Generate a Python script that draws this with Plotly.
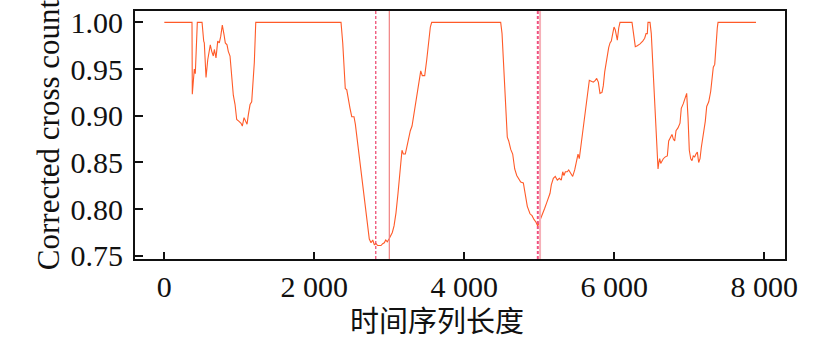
import plotly.graph_objects as go

# Series: time-series length vs corrected cross count
x_vals = [0, 369, 373, 400, 413, 440, 503, 512, 525, 533, 556, 579, 596, 613, 632, 653, 667, 689,
          712, 733, 752, 773, 796, 813, 836, 853, 876, 899, 920, 943, 965, 996, 1023, 1040, 1063,
          1085, 1103, 1120, 1143, 1165, 1183, 1200, 1219,
          2356, 2379, 2396, 2413, 2432, 2449, 2476, 2499, 2529, 2547, 2573, 2600, 2627, 2653, 2680,
          2707, 2733, 2756, 2779, 2800, 2823, 2845, 2867, 2889, 2912, 2933, 2952, 2973, 2996, 3019,
          3040, 3063, 3089, 3116, 3143, 3169, 3187, 3213, 3232, 3259, 3280, 3303, 3325, 3352, 3379,
          3405, 3419, 3440, 3472, 3499, 3525, 3547, 3565,
          4485, 4503, 4520, 4539, 4556, 4573, 4592, 4619, 4645, 4672, 4699, 4725, 4752, 4787, 4813,
          4840, 4876, 4903, 4929, 4956, 4979, 5000, 5019, 5045, 5072, 5099, 5125, 5143, 5160, 5187,
          5213, 5240, 5267, 5293, 5312, 5329, 5347, 5373, 5392, 5419, 5445, 5472, 5499, 5516, 5533,
          5552, 5579, 5605, 5632, 5649, 5667, 5693, 5720, 5747, 5765, 5787,
          5809, 5836, 5853, 5872, 5889, 5907, 5925, 5943, 5960, 5979, 5996, 6013, 6040, 6059, 6076,
          6236, 6253, 6280, 6307, 6343, 6379, 6405, 6423, 6440, 6449, 6476, 6493, 6512, 6529, 6547,
          6565, 6583, 6592, 6605, 6619, 6636, 6653, 6680, 6707, 6725, 6752, 6769, 6787, 6805, 6823,
          6849, 6876, 6893, 6920, 6947, 6965, 6983, 7000, 7019, 7036, 7053, 7072, 7089, 7107, 7125,
          7143, 7160, 7187, 7213, 7232, 7259, 7285, 7303, 7320, 7339, 7356, 7373, 7383, 7889]
y_vals = [1.0, 1.0, 0.923, 0.950, 0.945, 1.0, 1.0, 0.987, 0.980, 0.978, 0.941, 0.960, 0.968, 0.976,
          0.969, 0.964, 0.971, 0.962, 0.980, 0.978, 0.985, 0.997, 0.987, 0.978, 0.976, 0.969, 0.964,
          0.943, 0.922, 0.912, 0.896, 0.894, 0.892, 0.889, 0.898, 0.894, 0.891, 0.901, 0.912, 0.915,
          0.932, 0.957, 1.0,
          1.0, 0.978, 0.950, 0.929, 0.928, 0.919, 0.908, 0.899, 0.899, 0.891, 0.873, 0.856, 0.838,
          0.817, 0.800, 0.782, 0.768, 0.764, 0.767, 0.762, 0.763, 0.761, 0.761, 0.761, 0.763, 0.764,
          0.767, 0.765, 0.768, 0.772, 0.775, 0.782, 0.796, 0.817, 0.838, 0.863, 0.859, 0.859, 0.866,
          0.877, 0.884, 0.889, 0.901, 0.915, 0.929, 0.943, 0.948, 0.943, 0.943, 0.960, 0.980, 0.995,
          1.0,
          1.0, 0.988, 0.960, 0.926, 0.898, 0.877, 0.873, 0.864, 0.859, 0.843, 0.836, 0.833, 0.829,
          0.828, 0.814, 0.803, 0.795, 0.793, 0.789, 0.786, 0.782, 0.786, 0.791, 0.795, 0.801, 0.807,
          0.812, 0.817, 0.826, 0.833, 0.835, 0.831, 0.833, 0.831, 0.840, 0.836, 0.840, 0.840, 0.842,
          0.838, 0.835, 0.842, 0.854, 0.859, 0.854, 0.866, 0.880, 0.898, 0.912, 0.926, 0.938, 0.937,
          0.936, 0.938, 0.940, 0.936,
          0.924, 0.925, 0.932, 0.947, 0.957, 0.967, 0.973, 0.978, 0.980, 0.988, 0.995, 0.992, 0.981,
          0.994, 1.0,
          1.0, 0.988, 0.974, 0.975, 0.977, 0.980, 0.983, 0.988, 0.988, 1.0, 1.0, 0.988, 0.960, 0.926,
          0.898, 0.870, 0.843, 0.849, 0.854, 0.849, 0.852, 0.854, 0.856, 0.857, 0.873, 0.878, 0.880,
          0.875, 0.873, 0.884, 0.887, 0.892, 0.908, 0.913, 0.920, 0.924, 0.898, 0.863, 0.854, 0.852,
          0.857, 0.856, 0.859, 0.861, 0.850, 0.854, 0.866, 0.880, 0.894, 0.910, 0.915, 0.926, 0.938,
          0.952, 0.955, 0.980, 0.994, 1.0, 1.0]

# Marker lines (x positions)
dashed_marks = [2820, 4980]
solid_marks = [3000, 5010]

x_tickvals = [0, 2000, 4000, 6000, 8000]
x_ticktext = ["0", "2 000", "4 000", "6 000", "8 000"]
y_tickvals = [0.75, 0.80, 0.85, 0.90, 0.95, 1.00]

x_title = "时间序列长度"
y_title = "Corrected cross count"

FONT = "Liberation Serif, Times New Roman, Noto Sans CJK SC, serif"

L, R, T, B = 135, 42, 6, 80
W, H = 827, 339
pw, ph = W - L - R, H - T - B

fig = go.Figure()
fig.add_trace(go.Scatter(x=x_vals, y=y_vals, mode="lines",
                         line=dict(color="#FF5a28", width=1.1), showlegend=False))

for i, xv in enumerate(solid_marks):
    fig.add_shape(type="line", x0=xv, x1=xv, y0=0, y1=1, xref="x", yref="paper",
                  line=dict(color="#f08080" if i == 0 else "#f6b0b8", width=1.2 if i == 0 else 2))
for i, xv in enumerate(dashed_marks):
    fig.add_shape(type="line", x0=xv, x1=xv, y0=0, y1=1, xref="x", yref="paper",
                  line=dict(color="#e8194a" if i == 0 else "#f0507e", width=1 if i == 0 else 2,
                            dash="3px,2px"))

fig.add_annotation(text=x_title, x=(437 - L) / pw, y=-(320 - (H - B)) / ph,
                   xref="paper", yref="paper", showarrow=False, yanchor="middle",
                   font=dict(family="Noto Sans CJK SC", size=29, color="#111"))

fig.update_layout(
    width=W, height=H,
    margin=dict(l=L, r=R, t=T, b=B),
    paper_bgcolor="white", plot_bgcolor="white",
    font=dict(family=FONT, size=30, color="#111"),
    xaxis=dict(range=[-391, 8276], tickvals=x_tickvals, ticktext=x_ticktext,
               ticks="inside", ticklen=7, tickwidth=2, tickcolor="#111",
               showline=True, linecolor="#111", linewidth=2, mirror=True,
               showgrid=False, zeroline=False, tickfont=dict(size=30)),
    yaxis=dict(range=[0.7466, 1.0122], tickvals=y_tickvals, tickformat=".2f",
               ticks="inside", ticklen=8, tickwidth=2, tickcolor="#111",
               showline=True, linecolor="#111", linewidth=2, mirror=True,
               showgrid=False, zeroline=False, tickfont=dict(size=30),
               ticklabelstandoff=4,
               title=dict(text=y_title, font=dict(size=31), standoff=2)),
)

fig.write_html("out.html", config={"displayModeBar": False},
               post_script="document.body.style.margin='0px';document.body.style.overflow='hidden';")
